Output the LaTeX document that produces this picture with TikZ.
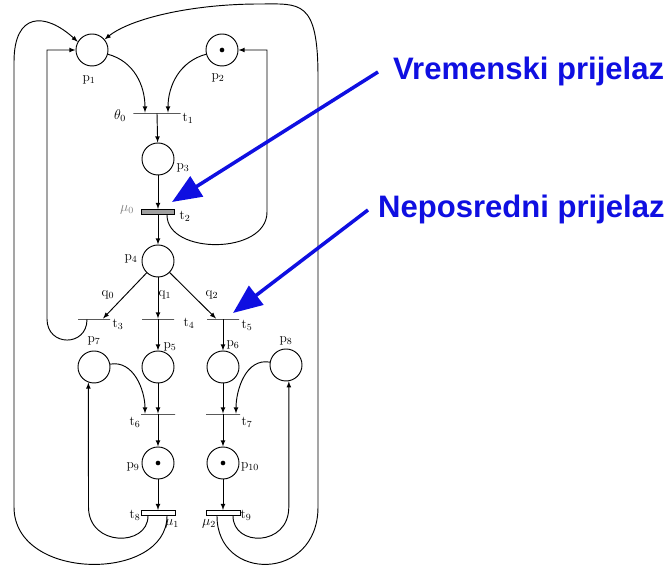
\documentclass[tikz,border=0pt]{standalone}
\usepackage{amsmath}
\usepackage{fontspec}
\usepackage{tikz}
\usetikzlibrary{arrows}
\usetikzlibrary{arrows.meta}
\newfontfamily\notefont{Liberation Sans}
\definecolor{noteblue}{RGB}{15,15,225}

\begin{document}
\begin{tikzpicture}[x=0.03cm,y=0.03cm,
  place/.style={circle,draw,thick,minimum size=0.96cm,inner sep=0pt},
  tokendot/.style={circle,fill,inner sep=0pt,minimum size=4pt},
  trans/.style={rectangle,draw,thick,minimum width=0.96cm,minimum height=0pt,inner sep=0pt},
  timed/.style={trans,minimum height=0.15cm,fill=white},
  flow/.style={thick,-latex},
  lab/.style={font=\fontsize{11.5}{13}\selectfont,inner sep=1pt},
  note/.style={font=\notefont\bfseries\fontsize{26.5}{30}\selectfont,text=noteblue,inner sep=0pt},
  pointer/.style={line width=3pt,draw=noteblue,-{Triangle[length=25pt,width=20pt]}}]
\useasboundingbox (0,0) rectangle (672,567);

\node[place] (p1) at (92,517) {};
\node[place] (p2) at (222,517) {};
\node[tokendot] (k2) at (p2) {};
\node[trans,minimum width=1.42cm] (t1) at (157,454) {};
\node[place] (p3) at (158,408) {};
\node[timed,fill=gray!75,minimum width=1cm] (t2) at (158,355) {};
\node[place] (p4) at (158,306) {};
\node[trans] (t3) at (94,248) {};
\node[trans] (t4) at (158,248) {};
\node[trans] (t5) at (223,248) {};
\node[place] (p7) at (94,200) {};
\node[place] (p5) at (158,200) {};
\node[place] (p6) at (223,200) {};
\node[place] (p8) at (286,202) {};
\node[trans,minimum width=1.02cm] (t6) at (158,153) {};
\node[trans,minimum width=1.02cm] (t7) at (223,153) {};
\node[place] (p9) at (158,104) {};
\node[tokendot] (k9) at (p9) {};
\node[place] (p10) at (223,104) {};
\node[tokendot] (k10) at (p10) {};
\node[timed,minimum width=1.02cm] (t8) at (158,54) {};
\node[timed,minimum width=1.02cm] (t9) at (223,54) {};

\node[lab] (lp1) at (89,487) {p$_1$};
\node[lab] (lp2) at (218,489) {p$_2$};
\node[lab] (lth0) at (120,451) {$\theta_0$};
\node[lab] (lt1) at (188,449) {t$_1$};
\node[lab] (lp3) at (183,399) {p$_3$};
\node[lab,text=gray] (lmu0) at (127,357) {$\mu_0$};
\node[lab] (lt2) at (185,351) {t$_2$};
\node[lab] (lp4) at (131,308) {p$_4$};
\node[lab] (lq0) at (108,272) {q$_0$};
\node[lab] (lq1) at (165,272) {q$_1$};
\node[lab] (lq2) at (212,272) {q$_2$};
\node[lab] (lt3) at (118,243) {t$_3$};
\node[lab] (lt4) at (189,244) {t$_4$};
\node[lab] (lt5) at (247,242) {t$_5$};
\node[lab] (lp7) at (94,226) {p$_7$};
\node[lab] (lp5) at (170,220) {p$_5$};
\node[lab] (lp6) at (233,222) {p$_6$};
\node[lab] (lp8) at (286,226) {p$_8$};
\node[lab] (lt6) at (135,145) {t$_6$};
\node[lab] (lt7) at (247,145) {t$_7$};
\node[lab] (lp9) at (133,100) {p$_9$};
\node[lab] (lp10) at (250,100) {p$_{10}$};
\node[lab] (lt8) at (135,52) {t$_8$};
\node[lab] (lmu1) at (172,43) {$\mu_1$};
\node[lab] (lt9) at (246,52) {t$_9$};
\node[lab] (lmu2) at (209,43) {$\mu_2$};

\draw[flow] (p1.-15) to[out=-15,in=90] ([xshift=-0.36cm]t1.north);
\draw[flow] (p2.195) to[out=195,in=90] ([xshift=0.33cm]t1.north);
\draw[flow] (t1.south) -- (p3);
\draw[flow] (p3) -- (t2.north);
\draw[flow] (t2.south) -- (p4);
\coordinate (c2a) at (267,355);
\coordinate (c2b) at (267,517);
\draw[flow] ([xshift=0.27cm]t2.south) .. controls (167,312) and (267,312) .. (c2a) -- (c2b) -- (p2);

\draw[flow] (p4) -- ([xshift=0.27cm]t3.north);
\draw[flow] (p4) -- (t4.north);
\draw[flow] (p4) -- ([xshift=-0.21cm]t5.north);
\draw[flow] (t4.south) -- (p5);
\draw[flow] (t5.south) -- (p6);
\coordinate (c3a) at (47,248);
\coordinate (c3b) at (47,517);
\draw[flow] ([xshift=-0.21cm]t3.south) .. controls (87,220) and (47,220) .. (c3a) -- (c3b) -- (p1);

\draw[flow] (p7.10) to[out=10,in=90] ([xshift=-0.39cm]t6.north);
\draw[flow] (p5) -- (t6.north);
\draw[flow] (t6.south) -- (p9);
\draw[flow] (p8.170) to[out=170,in=90] ([xshift=0.39cm]t7.north);
\draw[flow] (p6) -- (t7.north);
\draw[flow] (t7.south) -- (p10);
\draw[flow] (p9) -- (t8.north);
\draw[flow] (p10) -- (t9.north);

\coordinate (c8a) at (88.5,60);
\draw[flow] ([xshift=-0.3cm]t8.south) .. controls (148,20) and (88.5,20) .. (c8a) -- (p7.250);
\coordinate (c8b) at (14,60);
\coordinate (c8c) at (14,505);
\draw[flow] ([xshift=0.27cm]t8.south) .. controls (167,-15) and (14,-15) .. (c8b) -- (c8c) .. controls (14,555) and (45,555) .. (p1.150);
\coordinate (c9a) at (288.8,60);
\draw[flow] ([xshift=0.3cm]t9.south) .. controls (233,20) and (288.8,20) .. (c9a) -- (p8.280);
\coordinate (c9b) at (318,60);
\coordinate (c9c) at (318,490);
\coordinate (c9d) at (260,563);
\draw[flow] ([xshift=-0.18cm]t9.south) .. controls (217,-15) and (318,-15) .. (c9b) -- (c9c) .. controls (318,568) and (300,563) .. (c9d) .. controls (190,563) and (130,548) .. (p1.40);

\node[note,anchor=base west] (vrem) at (393,487) {Vremenski prijelaz};
\node[note,anchor=base west] (nepo) at (378,349) {Neposredni prijelaz};
\coordinate (vtip) at (172,365);
\coordinate (ntip) at (233,254);
\draw[pointer] ([xshift=-0.45cm]vrem.west) -- (vtip);
\draw[pointer] ([xshift=-0.3cm]nepo.west) -- (ntip);
\end{tikzpicture}
\end{document}
